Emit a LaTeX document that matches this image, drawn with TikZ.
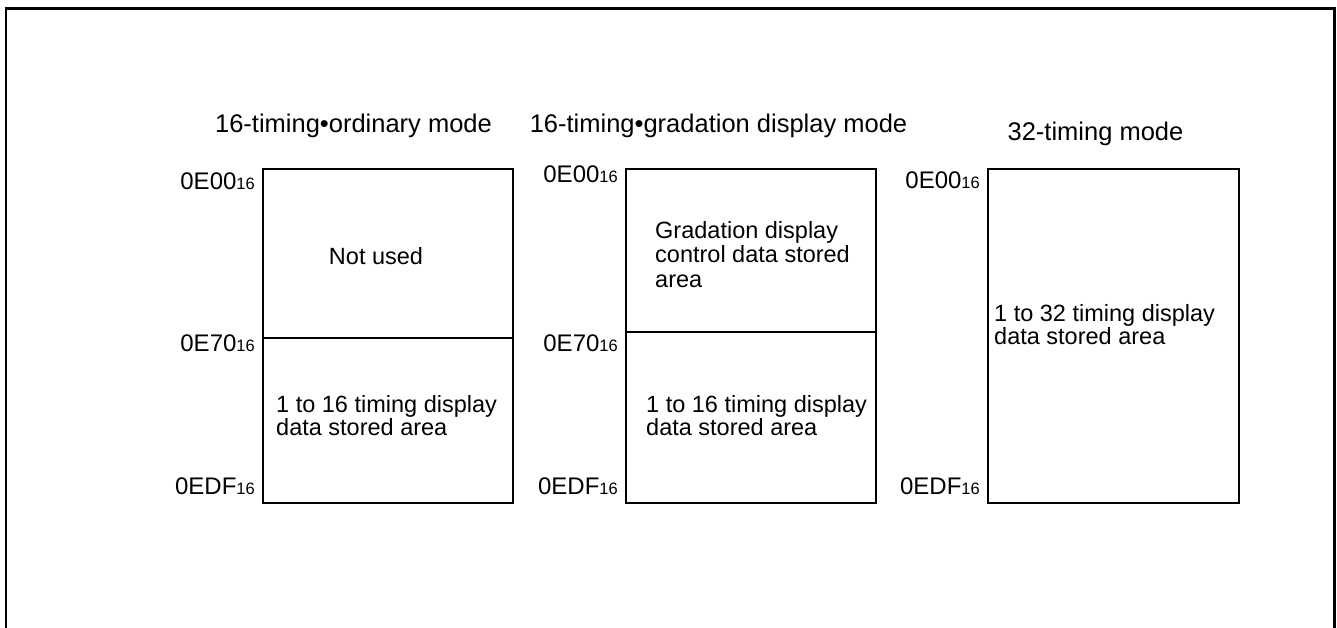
\documentclass[tikz,border=0pt]{standalone}
\usepackage{fontspec}
\setmainfont{Liberation Sans}
\newcommand{\hexaddr}[1]{#1{\fontsize{16.5}{18}\selectfont 16}}

\begin{document}
\begin{tikzpicture}[x=1pt,y=1pt,
  membox/.style={line width=2pt},
  frameline/.style={line width=2.7pt},
  modetitle/.style={anchor=base,inner sep=0pt,font=\fontsize{25.5}{28}\selectfont},
  addrlabel/.style={anchor=base east,inner sep=0pt,font=\fontsize{24}{26}\selectfont},
  areatext/.style={anchor=north west,align=left,inner sep=0pt,font=\fontsize{23.5}{23}\selectfont}]
\useasboundingbox (0,0) rectangle (1337,628);
% outer frame, runs off the bottom edge
\draw[frameline] (6,0) -- (6,619.3) -- (1334.3,619.3) -- (1334.3,0);
% mode titles
\node[modetitle] (ordtitle) at (353.5,495) {16-timing\textbullet ordinary mode};
\node[modetitle] (gradtitle) at (718.5,495) {16-timing\textbullet gradation display mode};
\node[modetitle] (tt32title) at (1095.5,487.3) {32-timing mode};
% 16-timing ordinary mode map
\draw[membox] (263,124.7) rectangle (513,459);
\draw[membox] (263,290.3) -- (513,290.3);
\node[addrlabel] (ordtop) at (255,438) {\hexaddr{0E00}};
\node[addrlabel] (ordmid) at (255,276.3) {\hexaddr{0E70}};
\node[addrlabel] (ordend) at (255,133) {\hexaddr{0EDF}};
\node[anchor=base,inner sep=0pt,font=\fontsize{23.5}{23}\selectfont] (ordunused) at (376,363) {Not used};
\node[areatext] (orddata) at (276,233) {1 to 16 timing display\\data stored area};
% 16-timing gradation display mode map
\draw[membox] (626,124.7) rectangle (876,459);
\draw[membox] (626,296.3) -- (876,296.3);
\node[addrlabel] (gradtop) at (618,445) {\hexaddr{0E00}};
\node[addrlabel] (gradmid) at (618,276.3) {\hexaddr{0E70}};
\node[addrlabel] (gradend) at (618,133) {\hexaddr{0EDF}};
\node[areatext,font=\fontsize{23.5}{24.5}\selectfont] (gradctrl) at (655,407) {Gradation display\\control data stored\\area};
\node[areatext] (graddata) at (646,233) {1 to 16 timing display\\data stored area};
% 32-timing mode map
\draw[membox] (988,124.7) rectangle (1239,459);
\node[addrlabel] (tt32top) at (980,439) {\hexaddr{0E00}};
\node[addrlabel] (tt32end) at (980,133) {\hexaddr{0EDF}};
\node[areatext] (tt32data) at (994,324) {1 to 32 timing display\\data stored area};
\end{tikzpicture}
\end{document}
